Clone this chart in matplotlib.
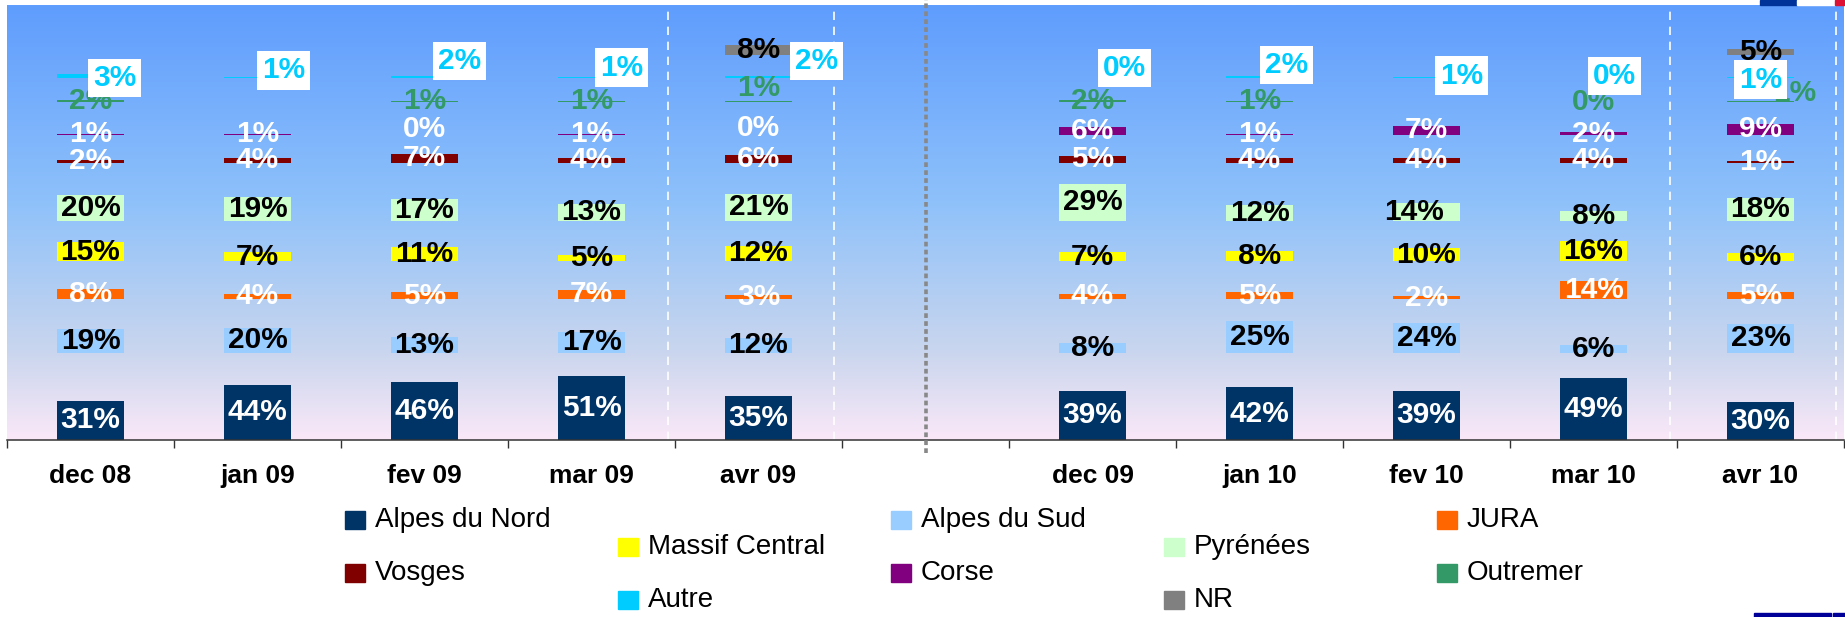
import numpy as np
import matplotlib
matplotlib.use("Agg")
import matplotlib.pyplot as plt
from matplotlib.patches import Rectangle
from matplotlib.transforms import blended_transform_factory

plt.rcParams['font.family'] = ['Liberation Sans', 'DejaVu Sans']

nan = np.nan

# months on the x axis, with an empty slot between the two seasons
months = ['dec 08', 'jan 09', 'fev 09', 'mar 09', 'avr 09', '',
          'dec 09', 'jan 10', 'fev 10', 'mar 10', 'avr 10']

# share of each region (%)
alpes_nord = [31, 44, 46, 51, 35, nan, 39, 42, 39, 49, 30]
alpes_sud = [19, 20, 13, 17, 12, nan, 8, 25, 24, 6, 23]
jura = [8, 4, 5, 7, 3, nan, 4, 5, 2, 14, 5]
massif_central = [15, 7, 11, 5, 12, nan, 7, 8, 10, 16, 6]
pyrenees = [20, 19, 17, 13, 21, nan, 29, 12, 14, 8, 18]
vosges = [2, 4, 7, 4, 6, nan, 5, 4, 4, 4, 1]
corse = [1, 1, 0, 1, 0, nan, 6, 1, 7, 2, 9]
outremer = [2, nan, 1, 1, 1, nan, 2, 1, nan, 0, 1]
autre = [3, 1, 2, 1, 2, nan, 0, 2, 1, 0, 1]
nr = [nan, nan, nan, nan, 8, nan, nan, nan, nan, nan, 5]

names = ['Alpes du Nord', 'Alpes du Sud', 'JURA', 'Massif Central', 'Pyrénées',
         'Vosges', 'Corse', 'Outremer', 'Autre', 'NR']
series = [alpes_nord, alpes_sud, jura, massif_central, pyrenees,
          vosges, corse, outremer, autre, nr]

colors = ['#003366', '#99ccff', '#ff6600', '#ffff00', '#ccffcc',
          '#800000', '#800080', '#339966', '#00ccff', '#808080']
label_colors = ['white', 'black', 'white', 'black', 'black',
                'white', 'white', '#339966', '#00ccff', 'black']
# each region sits on its own row of the ladder
row_base = [0, 69, 112, 142, 174, 220, 242, 268, 287, 305]

# hand-placed labels (pixel offsets from the bar centre)
label_shift = {
    ('Autre', 0): (24, -2), ('Autre', 1): (26, 7), ('Autre', 2): (35, 16),
    ('Autre', 3): (30, 10), ('Autre', 4): (58, 16), ('Autre', 6): (32, 10),
    ('Autre', 7): (27, 12), ('Autre', 8): (35, 2), ('Autre', 9): (21, 2),
    ('Autre', 10): (0, -2),
    ('Outremer', 4): (0, 13), ('Outremer', 10): (34, 8),
    ('Pyrénées', 8): (-12, 0), ('Corse', 2): (0, 6), ('Corse', 4): (0, 7),
}

W, H = 1845, 617
fig = plt.figure(figsize=(W / 100, H / 100), dpi=100)
ax = fig.add_axes([7 / W, 1 - 440 / H, 1837 / W, 435 / H])
ymax = 345
x = np.arange(len(months))

# background gradient of the plot area
stops = [0.0, 0.45, 0.8, 1.0]
rgb = np.array([[95, 157, 254], [142, 193, 250], [202, 214, 238], [250, 232, 248]]) / 255
t = np.linspace(0, 1, 300)
grad = np.stack([np.interp(t, stops, rgb[:, k]) for k in range(3)], axis=1)[:, None, :]
ax.imshow(grad, extent=(-0.5, 10.5, 0, ymax), aspect='auto', origin='upper', zorder=0)

for name, vals, col, lcol, base in zip(names, series, colors, label_colors, row_base):
    for i, v in enumerate(vals):
        if np.isnan(v):
            continue
        ax.bar(x[i], v, bottom=base, width=0.4, color=col, zorder=2)
        dx, dy = label_shift.get((name, i), (0, 0))
        box = None
        if name == 'Autre':
            box = dict(boxstyle='square,pad=0.17', fc='white', ec='none')
        ax.annotate(f'{v:.0f}%', (x[i], base + v / 2), xytext=(dx, dy),
                    textcoords='offset pixels', ha='center', va='center',
                    fontsize=21.5, fontweight='bold', color=lcol, bbox=box, zorder=5)

# white dashed frames around the April columns
for c in (4, 10):
    for off in (-0.54, 0.45):
        ax.axvline(c + off, color='white', lw=1.2, ls=(0, (5, 4)), zorder=1)

# grey dotted separator between the two seasons
trans = blended_transform_factory(ax.transData, ax.transAxes)
ax.plot([5, 5], [-0.03, 1.012], transform=trans, color='#888888', lw=2.6,
        ls=(0, (1.3, 0.9)), clip_on=False, zorder=3)

ax.set_xlim(-0.5, 10.5)
ax.set_ylim(0, ymax)
for s in ('top', 'right', 'left'):
    ax.spines[s].set_visible(False)
ax.spines['bottom'].set_color('#333333')
ax.spines['bottom'].set_linewidth(1.1)
ax.set_yticks([])
ax.set_xticks(np.arange(-0.5, 11, 1))
ax.set_xticklabels([])
ax.tick_params(axis='x', which='major', length=6, width=1, color='#333333', direction='out')
ax.set_xticks(x, minor=True)
ax.set_xticklabels(months, minor=True, fontsize=19, fontweight='bold')
ax.tick_params(axis='x', which='minor', length=0, pad=17)

# legend laid out in a staggered grid
legend_slot = [(0, 0), (2, 0), (4, 0), (1, 1), (3, 1),
               (0, 2), (2, 2), (4, 2), (1, 3), (3, 3)]
for name, col, (c, r) in zip(names, colors, legend_slot):
    lx = 345 + 273 * c
    ly = 520 + 26.7 * r
    fig.patches.append(Rectangle((lx / W, 1 - (ly + 9) / H), 20 / W, 18 / H,
                                 transform=fig.transFigure, color=col))
    fig.text((lx + 30) / W, 1 - ly / H, name, fontsize=20, va='center', ha='left')

# small corner decorations
for x0, x1, col in ((1760, 1797, '#003399'), (1797, 1835, 'white'), (1835, 1845, '#dd1133')):
    fig.patches.append(Rectangle((x0 / W, 1 - 5 / H), (x1 - x0) / W, 5 / H,
                                 transform=fig.transFigure, color=col, zorder=5))
for x0, x1 in ((1754, 1831), (1833, 1845)):
    fig.patches.append(Rectangle((x0 / W, 0), (x1 - x0) / W, 4 / H,
                                 transform=fig.transFigure, color='#000099'))

fig.savefig('out.png', dpi=100)
